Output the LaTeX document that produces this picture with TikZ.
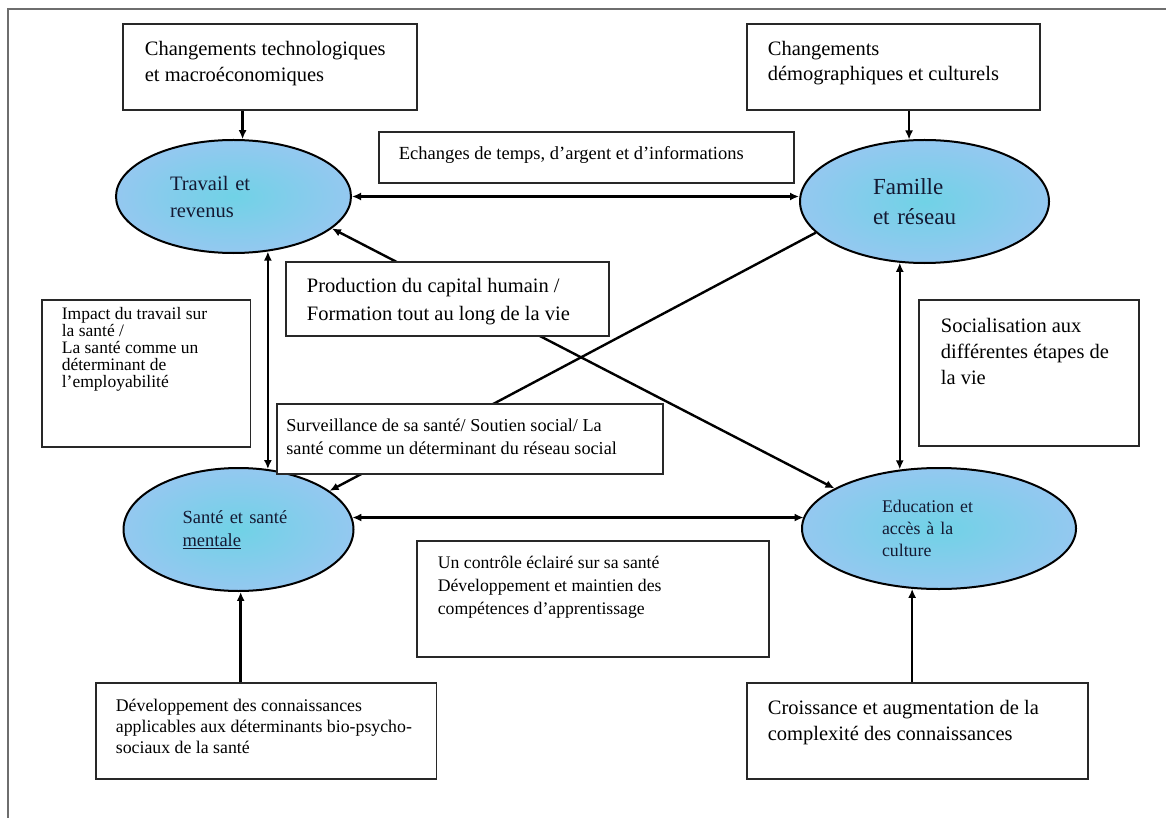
\documentclass[tikz,border=0pt]{standalone}
\usepackage{fontspec}
\setmainfont{Liberation Serif}
\usetikzlibrary{shapes.geometric,arrows.meta,backgrounds}
\definecolor{ellin}{RGB}{112,210,230}
\definecolor{ellout}{RGB}{148,200,240}
\definecolor{boxline}{RGB}{40,40,40}
\definecolor{frameline}{RGB}{110,110,110}
\definecolor{elltext}{RGB}{20,25,50}
\newcommand\boxtxt[7]{\parbox[c][#2pt][t]{#1pt}{\fontsize{#5pt}{#6pt}\selectfont\raggedright\leftskip=#3pt\relax\vspace*{#4pt}#7\par}}
\tikzset{
  bx/.style={draw=boxline, line width=1.7pt, fill=white, inner sep=0pt, anchor=north west},
  ell/.style={ellipse, draw=black, line width=2pt, inner sep=0pt, align=left,
              inner color=ellin, outer color=ellout, text=elltext},
  conn/.style={line width=2.4pt, draw=black},
  one/.style={conn, -{Latex[length=9pt,width=8pt]}},
  two/.style={conn, {Latex[length=9pt,width=8pt]}-{Latex[length=9pt,width=8pt]}},
  frame/.style={draw=frameline, line width=1.6pt}
}
\begin{document}
\begin{tikzpicture}[x=1pt,y=-1pt]
\useasboundingbox (0,0) rectangle (1166,818);

% ellipses
\node[ell, minimum width=235, minimum height=113, text width=127,
      font=\fontsize{20.5pt}{27pt}\selectfont] (T) at (233.5,196.5) {Travail et\\revenus};
\node[ell, minimum width=249, minimum height=123, text width=103,
      font=\fontsize{23pt}{30pt}\selectfont] (F) at (924.5,201.5) {Famille\\et réseau};
\node[ell, minimum width=230, minimum height=123, text width=112,
      font=\fontsize{18.5pt}{23pt}\selectfont] (S) at (238.5,529.5) {Santé et santé\\\underline{mentale}};
\node[ell, minimum width=274, minimum height=121, text width=114,
      font=\fontsize{17.8pt}{22pt}\selectfont] (E) at (939,528.5) {Education et\\accès à la\\culture};

% boxes
\node[bx] (tech) at (122,23) {\boxtxt{294}{86}{22}{17}{20.5}{26}{Changements technologiques\\et macroéconomiques}};
\node[bx] (demo) at (746,23) {\boxtxt{293}{86}{21}{17}{20.5}{25}{Changements\\démographiques et culturels}};
\node[bx] (ech) at (378,131) {\boxtxt{415}{51}{20}{14.8}{18.5}{23}{Echanges de temps, d’argent et d’informations}};
\node[bx] (prod) at (285,261) {\boxtxt{323}{74}{21}{16}{20.5}{28}{Production du capital humain /\\Formation tout au long de la vie}};
\node[bx] (impact) at (41,299) {\boxtxt{208.5}{147}{20}{7.2}{17.5}{17}{Impact du travail sur\\la santé /\\La santé comme un\\déterminant de\\l’employabilité}};
\node[bx] (social) at (918,299) {\boxtxt{220}{146}{22}{18}{20.5}{26}{Socialisation aux\\différentes étapes de\\la vie}};
\node[bx] (surv) at (276,403) {\boxtxt{386}{70}{9.5}{14.9}{18.2}{23}{Surveillance de sa santé/ Soutien social/ La\\santé comme un déterminant du réseau social}};
\node[bx] (ctrl) at (416,540) {\boxtxt{352}{116}{21}{15.1}{17.7}{23}{Un contrôle éclairé sur sa santé\\Développement et maintien des\\compétences d’apprentissage}};
\node[bx] (dev) at (95,682) {\boxtxt{340.5}{96}{20}{16.1}{17.8}{21}{Développement des connaissances\\applicables aux déterminants bio-psycho-\\sociaux de la santé}};
\node[bx] (crois) at (746,682) {\boxtxt{341}{96}{21}{17}{20.5}{26}{Croissance et augmentation de la\\complexité des connaissances}};

% background and connectors
\begin{scope}[on background layer]
\fill[white] (0,0) rectangle (1166,818);
\draw[frame] (8,818) -- (8,9) -- (1166,9);
\draw[one] (T.81 |- tech.south) -- (T.81);
\draw[one] (F.104 |- demo.south) -- (F.104);
\draw[two] (T.east) -- (T.east -| F.west);
\draw[two] (T.-58) -- (T.-58 |- S.64);
\draw[two] (F.-112) -- (F.-112 |- E.123);
\draw[two] (S.6) -- (S.6 -| E.175);
\draw[two] (T.-18) -- (E.159);
\draw[one] (F.-164) -- (S.23);
\draw[one] (S.-88 |- dev.north) -- (S.-88);
\draw[one] (E.-114 |- crois.north) -- (E.-114);
\end{scope}
\end{tikzpicture}
\end{document}
